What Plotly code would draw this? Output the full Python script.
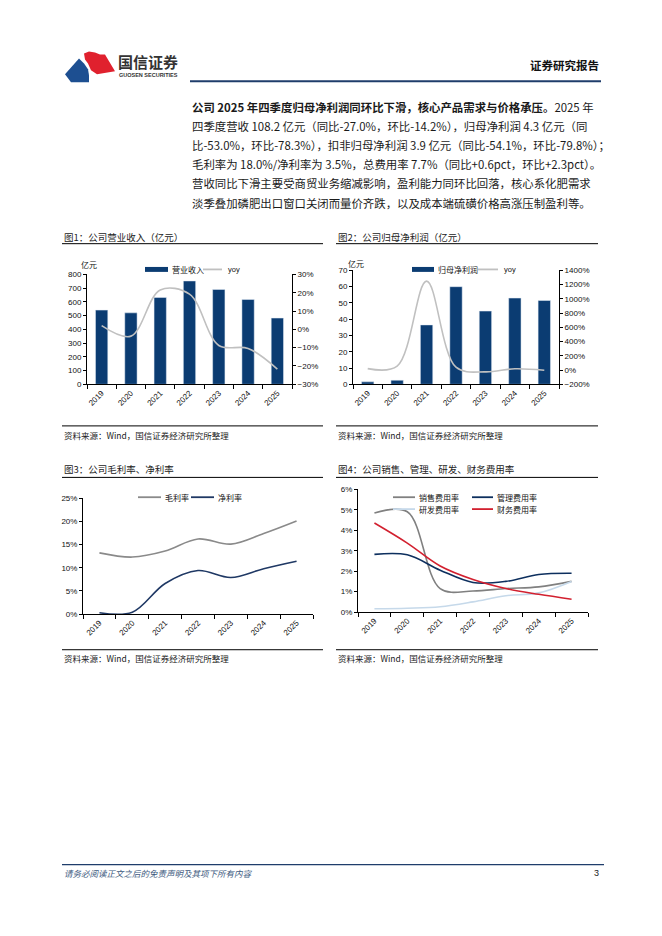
import plotly.graph_objects as go

W, H = 662, 936


def px(x):
    return x / W


def py(y):
    return 1 - y / H


years = ["2019", "2020", "2021", "2022", "2023", "2024", "2025"]

# fig1: revenue (亿元) and yoy (%)
revenue = [540, 520, 632, 752, 690, 617, 482]
revenue_yoy = [2.0, -3.7, 21.5, 19.2, -8.8, -10.4, -21.7]

# fig2: net profit attributable (亿元) and yoy (%)
net_profit = [1.5, 2.5, 36.5, 60.0, 45.0, 53.0, 51.5]
net_profit_yoy = [20, 55, 1250, 40, -25, 18, -3]

# fig3: gross margin / net margin (%)
gross_margin = [13.2, 12.3, 13.6, 16.2, 15.1, 17.4, 20.1]
net_margin = [0.3, 0.4, 6.6, 9.4, 7.9, 9.8, 11.4]

# fig4: expense ratios (%)
selling_ratio = [4.84, 4.9, 1.15, 1.03, 1.15, 1.23, 1.5]
admin_ratio = [2.82, 2.8, 2.05, 1.45, 1.5, 1.84, 1.9]
rd_ratio = [0.16, 0.19, 0.26, 0.5, 0.8, 0.94, 1.5]
finance_ratio = [4.35, 3.37, 2.25, 1.59, 1.15, 0.87, 0.63]

NAVY = "#0b3c72"
CJK = "Noto Sans CJK SC"
SANS = "Liberation Sans"

fig = go.Figure()

fig.add_trace(go.Bar(x=years, y=revenue, marker_color=NAVY, width=0.42,
                     xaxis="x", yaxis="y"))
fig.add_trace(go.Scatter(x=years, y=revenue_yoy, mode="lines",
                         line=dict(color="#c0c0c0", width=1.6, shape="spline"),
                         xaxis="x", yaxis="y2"))

fig.add_trace(go.Bar(x=years, y=net_profit, marker_color=NAVY, width=0.42,
                     xaxis="x2", yaxis="y3"))
fig.add_trace(go.Scatter(x=years, y=net_profit_yoy, mode="lines",
                         line=dict(color="#c0c0c0", width=1.6, shape="spline"),
                         xaxis="x2", yaxis="y4"))

fig.add_trace(go.Scatter(x=years, y=gross_margin, mode="lines",
                         line=dict(color="#8a8a8a", width=1.6, shape="spline"),
                         xaxis="x3", yaxis="y5"))
fig.add_trace(go.Scatter(x=years, y=net_margin, mode="lines",
                         line=dict(color="#1f3864", width=1.6, shape="spline"),
                         xaxis="x3", yaxis="y5"))

exp_series = [
    (selling_ratio, "#808080"),
    (admin_ratio, "#0d2f5e"),
    (rd_ratio, "#c6d9ea"),
    (finance_ratio, "#d2202f"),
]
for vals, col in exp_series:
    fig.add_trace(go.Scatter(x=years, y=vals, mode="lines",
                             line=dict(color=col, width=1.6, shape="spline"),
                             xaxis="x4", yaxis="y6"))

tickfont = dict(family=SANS, size=8, color="#111")


def xax(x0, x1, anchor):
    return dict(domain=[px(x0), px(x1)], anchor=anchor, type="category",
                range=[-0.5, 6.5], tickson="boundaries", ticks="outside",
                ticklen=4, tickcolor="#000", showline=True, linecolor="#000",
                linewidth=1, tickangle=-45, tickfont=tickfont, showgrid=False,
                fixedrange=True)


def yax(y0, y1, rng, dtick, anchor, suffix="", **kw):
    d = dict(domain=[py(y1), py(y0)], anchor=anchor, range=rng, dtick=dtick,
             ticks="outside", ticklen=3, tickcolor="#000", showline=True,
             linecolor="#000", linewidth=1, showgrid=False, zeroline=False,
             ticksuffix=suffix, tickfont=tickfont)
    d.update(kw)
    return d


fig.update_layout(
    width=W, height=H, margin=dict(l=0, r=0, t=0, b=0),
    paper_bgcolor="white", plot_bgcolor="white", showlegend=False,
    bargap=0.5,
    xaxis=xax(87, 292, "y"),
    yaxis=yax(273, 384, [0, 800], 100, "x"),
    yaxis2=yax(273, 384, [-30, 30], 10, "x", "%", overlaying="y", side="right"),
    xaxis2=xax(353, 559, "y3"),
    yaxis3=yax(269, 384, [0, 70], 10, "x2"),
    yaxis4=yax(269, 384, [-200, 1400], 200, "x2", "%", overlaying="y3", side="right"),
    xaxis3=xax(83, 313, "y5"),
    yaxis5=yax(499, 616, [0, 25], 5, "x3", "%"),
    xaxis4=xax(358, 588, "y6"),
    yaxis6=yax(490, 614, [0, 6], 1, "x4", "%"),
)

shapes = []
annos = []


def hline(x0, x1, y, color="#000", w=1):
    shapes.append(dict(type="line", xref="paper", yref="paper",
                       x0=px(x0), x1=px(x1), y0=py(y), y1=py(y),
                       line=dict(color=color, width=w)))


def text(x, y, s, size=9, color="#222", anchor="left", family=CJK, **kw):
    annos.append(dict(xref="paper", yref="paper", x=px(x), y=py(y), text=s,
                      showarrow=False, xanchor=anchor, yanchor="middle",
                      font=dict(family=family, size=size, color=color), **kw))


def poly(points, color):
    path = "M " + " L ".join("{} {}".format(px(a), py(b)) for a, b in points) + " Z"
    shapes.append(dict(type="path", xref="paper", yref="paper", path=path,
                       fillcolor=color, line=dict(width=0)))


# header logo
poly([(65, 71), (79, 55), (84, 60), (88, 66), (89, 72), (89, 79), (71, 79)],
     "#1d4f91")
poly([(84, 50), (89, 48), (95, 49), (100, 51), (105, 51), (115, 68),
      (97, 71), (91, 67), (88, 60), (85, 56)], "#e0212e")
text(116, 58, "<b>国信证券</b>", size=15, color="#333")
text(117, 72, "<b>GUOSEN SECURITIES</b>", size=5.5, color="#333", family=SANS)
text(601, 62, "<b>证券研究报告</b>", size=11.5, color="#111", anchor="right")
hline(190, 601, 78, "#1f3d6b", 2.2)

# body text
body = [
    "<b>公司 2025 年四季度归母净利润同环比下滑，核心产品需求与价格承压。</b>2025 年",
    "四季度营收 108.2 亿元（同比-27.0%，环比-14.2%），归母净利润 4.3 亿元（同",
    "比-53.0%，环比-78.3%），扣非归母净利润 3.9 亿元（同比-54.1%，环比-79.8%）；",
    "毛利率为 18.0%/净利率为 3.5%，总费用率 7.7%（同比+0.6pct，环比+2.3pct）。",
    "营收同比下滑主要受商贸业务缩减影响，盈利能力同环比回落，核心系化肥需求",
    "淡季叠加磷肥出口窗口关闭而量价齐跌，以及成本端硫磺价格高涨压制盈利等。",
]
for i, line in enumerate(body):
    text(190, 104 + i * 19.3, line, size=11.4, color="#1a1a1a")

# chart titles and rules
text(62, 235, "图1：公司营业收入（亿元）", size=9.5)
text(336, 235, "图2：公司归母净利润（亿元）", size=9.5)
text(62, 470, "图3：公司毛利率、净利率", size=9.5)
text(336, 470, "图4：公司销售、管理、研发、财务费用率", size=9.5)
hline(62, 323, 242)
hline(336, 598, 242)
hline(62, 323, 478)
hline(336, 598, 478)
hline(62, 323, 426)
hline(336, 598, 426)
hline(62, 323, 652)
hline(336, 598, 652)
src = "资料来源：Wind，国信证券经济研究所整理"
text(62, 435, src, size=8.5)
text(336, 435, src, size=8.5)
text(62, 660, src, size=8.5)
text(336, 660, src, size=8.5)

# unit labels
text(89, 263, "亿元", size=8, color="#111", anchor="center")
text(356, 262, "亿元", size=8, color="#111", anchor="center")


# legends
def leg_rect(x0, x1, y, color):
    shapes.append(dict(type="rect", xref="paper", yref="paper",
                       x0=px(x0), x1=px(x1), y0=py(y + 2.5), y1=py(y - 2.5),
                       fillcolor=color, line=dict(width=0)))


def leg_line(x0, x1, y, color):
    hline(x0, x1, y, color, 1.8)


leg_rect(145, 168, 268, NAVY)
text(170, 268, "营业收入", size=8, color="#111")
leg_line(203, 222, 268, "#c0c0c0")
text(226, 268, "yoy", size=7.5, color="#111", family=SANS)

leg_rect(412, 434, 268, NAVY)
text(436, 268, "归母净利润", size=8, color="#111")
leg_line(478, 498, 268, "#c0c0c0")
text(502, 268, "yoy", size=7.5, color="#111", family=SANS)

leg_line(138, 161, 498, "#8a8a8a")
text(163, 498, "毛利率", size=8, color="#111")
leg_line(191, 214, 498, "#1f3864")
text(216, 498, "净利率", size=8, color="#111")

leg_line(393, 415, 498, "#808080")
text(417, 498, "销售费用率", size=8, color="#111")
leg_line(472, 493, 498, "#0d2f5e")
text(495, 498, "管理费用率", size=8, color="#111")
leg_line(393, 415, 510, "#c6d9ea")
text(417, 510, "研发费用率", size=8, color="#111")
leg_line(472, 493, 510, "#d2202f")
text(495, 510, "财务费用率", size=8, color="#111")

# footer
hline(62, 604, 869, "#1f3d6b", 1.2)
text(62, 877, "<i>请务必阅读正文之后的免责声明及其项下所有内容</i>", size=8.5,
     color="#3d5a80")
text(601, 877, "3", size=9, color="#222", anchor="right", family=SANS)

fig.update_layout(shapes=shapes, annotations=annos)

# drop the browser's default 8px body margin so paper coords match the page
fig.write_html("out.html", config={"displayModeBar": False},
               post_script="document.body.style.margin='0';document.body.style.overflow='hidden';")
